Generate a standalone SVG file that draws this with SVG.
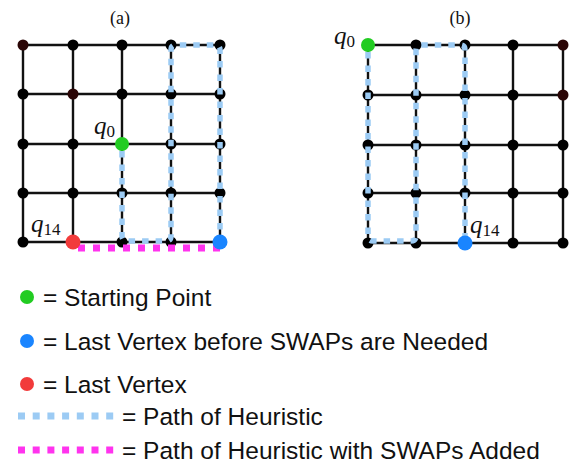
<svg xmlns="http://www.w3.org/2000/svg" width="576" height="464" viewBox="0 0 576 464">
<style>
.grid{stroke:#111;stroke-width:2.4;fill:none}
.path{stroke:#9ccbf4;stroke-width:5.5;fill:none;stroke-dasharray:6.5 7;stroke-linejoin:round}
.swap{stroke:#ff33ee;stroke-width:7;fill:none;stroke-dasharray:7 8}
.leg-dash{stroke-width:7;stroke-dasharray:7 7.7}
.n{fill:#000}
.d{fill:#2a0505}
.title{font-family:"Liberation Serif",serif;font-size:18px;fill:#111}
.q{font-family:"Liberation Serif",serif;font-style:italic;font-size:25px;fill:#111}
.sub{font-family:"Liberation Serif",serif;font-style:normal;font-size:17px;fill:#111}
.leg{font-family:"Liberation Sans",Arial,sans-serif;font-size:24.5px;fill:#111}
</style>
<rect width="576" height="464" fill="#fff"/>
<text class="title" x="120" y="24" text-anchor="middle">(a)</text>
<text class="title" x="460" y="24" text-anchor="middle">(b)</text>
<g id="grid-lines">
<g id="grid-a" class="grid">
<path d="M23 45H220M23 94H220M23 144H220M23 193H220M23 242H220M23 45V242M73 45V242M122 45V242M171 45V242M220 45V242"/>
</g>
<g id="grid-b" class="grid">
<path d="M368 45H563M368 95H563M368 145H563M368 193H563M368 243H563M368 45V243M416 45V243M465 45V243M513 45V243M563 45V243"/>
</g>
</g>
<g id="nodes-a">
<circle class="d" cx="23" cy="45" r="5.5"/><circle class="n" cx="73" cy="45" r="5.5"/><circle class="n" cx="122" cy="45" r="5.5"/><circle class="n" cx="171" cy="45" r="5.5"/><circle class="n" cx="220" cy="45" r="5.5"/>
<circle class="n" cx="23" cy="94" r="5.5"/><circle class="d" cx="73" cy="94" r="5.5"/><circle class="n" cx="122" cy="94" r="5.5"/><circle class="n" cx="171" cy="94" r="5.5"/><circle class="n" cx="220" cy="94" r="5.5"/>
<circle class="n" cx="23" cy="144" r="5.5"/><circle class="n" cx="73" cy="144" r="5.5"/><circle class="n" cx="171" cy="144" r="5.5"/><circle class="n" cx="220" cy="144" r="5.5"/>
<circle class="n" cx="23" cy="193" r="5.5"/><circle class="n" cx="73" cy="193" r="5.5"/><circle class="n" cx="122" cy="193" r="5.5"/><circle class="n" cx="171" cy="193" r="5.5"/><circle class="n" cx="220" cy="193" r="5.5"/>
<circle class="n" cx="23" cy="242" r="5.5"/><circle class="n" cx="122" cy="242" r="5.5"/><circle class="n" cx="171" cy="242" r="5.5"/>
</g>
<g id="nodes-b">
<circle class="n" cx="416" cy="45" r="5.5"/><circle class="n" cx="465" cy="45" r="5.5"/><circle class="n" cx="513" cy="45" r="5.5"/><circle class="d" cx="563" cy="45" r="5.5"/>
<circle class="n" cx="368" cy="95" r="5.5"/><circle class="n" cx="416" cy="95" r="5.5"/><circle class="n" cx="465" cy="95" r="5.5"/><circle class="n" cx="513" cy="95" r="5.5"/><circle class="d" cx="563" cy="95" r="5.5"/>
<circle class="n" cx="368" cy="145" r="5.5"/><circle class="n" cx="416" cy="145" r="5.5"/><circle class="n" cx="465" cy="145" r="5.5"/><circle class="n" cx="513" cy="145" r="5.5"/><circle class="n" cx="563" cy="145" r="5.5"/>
<circle class="n" cx="368" cy="193" r="5.5"/><circle class="n" cx="416" cy="193" r="5.5"/><circle class="n" cx="465" cy="193" r="5.5"/><circle class="n" cx="513" cy="193" r="5.5"/><circle class="n" cx="563" cy="193" r="5.5"/>
<circle class="n" cx="368" cy="243" r="5.5"/><circle class="n" cx="416" cy="243" r="5.5"/><circle class="n" cx="513" cy="243" r="5.5"/><circle class="n" cx="563" cy="243" r="5.5"/>
</g>
<g id="connectors">
<path id="path-a" class="path" d="M122 151V236Q122 241 127 241H166Q171 241 171 236V50Q171 45 176 45H215Q220 45 220 50V236"/>
<path id="swap-a" class="swap" d="M78 248H220"/>
<path id="path-b" class="path" d="M368 52V236Q368 241 373 241H411Q416 241 416 236V50Q416 45 421 45H460Q465 45 465 50V236"/>
</g>
<g id="q0-a"><circle cx="122" cy="144" r="7" fill="#22cc22"/><text class="q" x="94" y="134">q<tspan class="sub" dy="3">0</tspan></text></g>
<g id="q14-a"><circle cx="73" cy="242" r="7.5" fill="#f23b3b"/><text class="q" x="31" y="232">q<tspan class="sub" dy="3">14</tspan></text></g>
<g id="blue-a"><circle cx="220" cy="242" r="7.5" fill="#1a85ff"/></g>
<g id="q0-b"><circle cx="368" cy="45" r="7" fill="#22cc22"/><text class="q" x="334" y="44">q<tspan class="sub" dy="3">0</tspan></text></g>
<g id="q14-b"><circle cx="465" cy="243" r="7.5" fill="#1a85ff"/><text class="q" x="470" y="233">q<tspan class="sub" dy="3">14</tspan></text></g>
<g id="legend">
<circle cx="27" cy="297" r="7" fill="#22cc22"/><text class="leg" x="43" y="306">= Starting Point</text>
<circle cx="27" cy="341" r="7" fill="#1a85ff"/><text class="leg" x="43" y="350">= Last Vertex before SWAPs are Needed</text>
<circle cx="27" cy="384" r="7" fill="#f23b3b"/><text class="leg" x="43" y="393">= Last Vertex</text>
<path class="path leg-dash" d="M18 416H116"/><text class="leg" x="122" y="425">= Path of Heuristic</text>
<path class="swap leg-dash" d="M18 450H116"/><text class="leg" x="122" y="459">= Path of Heuristic with SWAPs Added</text>
</g>
</svg>
